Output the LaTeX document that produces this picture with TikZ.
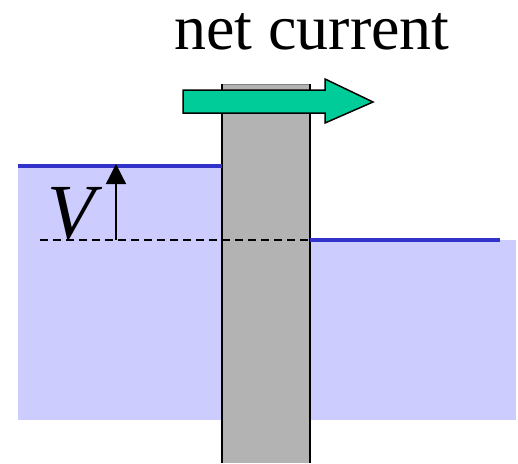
\documentclass[tikz,border=0pt]{standalone}
\usepackage{fontspec}
\setmainfont{Liberation Serif}
\usetikzlibrary{arrows.meta}
\definecolor{wellfill}{HTML}{CCCCFF}
\definecolor{levelblue}{HTML}{3333CC}
\definecolor{barriergray}{HTML}{B3B3B3}
\definecolor{currentgreen}{HTML}{00CC99}
\tikzset{
  level/.style={levelblue, line width=4pt},
  well/.style={fill=wellfill, draw=none},
  barrier/.style={fill=barriergray, draw=none},
  bigtext/.style={inner sep=0pt, font=\fontsize{64}{70}\selectfont},
}
\begin{document}
\begin{tikzpicture}[x=1pt,y=-1pt]
\useasboundingbox (0,0) rectangle (518,463);
% wells
\fill[well] (18,166) rectangle (222,420);
\fill[well] (310,240) rectangle (516,420);
% barrier
\fill[barrier] (222,84) rectangle (310,463);
\draw[gray, line width=1pt] (222,84) -- (310,84);
\draw[black, line width=2pt] (222,84) -- (222,463);
\draw[black, line width=2pt] (310,84) -- (310,463);
% levels
\draw[level] (18,166) -- (222,166);
\draw[level] (310,240) -- (500,240);
% dashed reference
\coordinate (dL) at (40,240);
\coordinate (dR) at (310,240);
\draw[dashed, line width=1.2pt, dash pattern=on 8pt off 5pt] (dL) -- (dR);
% V arrow
\coordinate (vb) at (116,240);
\coordinate (vt) at (116,164);
\draw[line width=1.3pt, -{Triangle[length=20pt,width=20pt]}] (vb) -- (vt);
\node[bigtext, font=\fontsize{78}{80}\selectfont\itshape, anchor=base, text height=52pt, text depth=0pt] (V) at (71,238) {V};
% net current arrow
\draw[fill=currentgreen, draw=black, line width=1.5pt]
  (183,90) -- (325,90) -- (325,79) -- (373,102) -- (325,123) -- (325,113) -- (183,113) -- cycle;
\node[bigtext, anchor=base, text height=37pt, text depth=0pt] (title) at (312,49) {net current};
\end{tikzpicture}
\end{document}
